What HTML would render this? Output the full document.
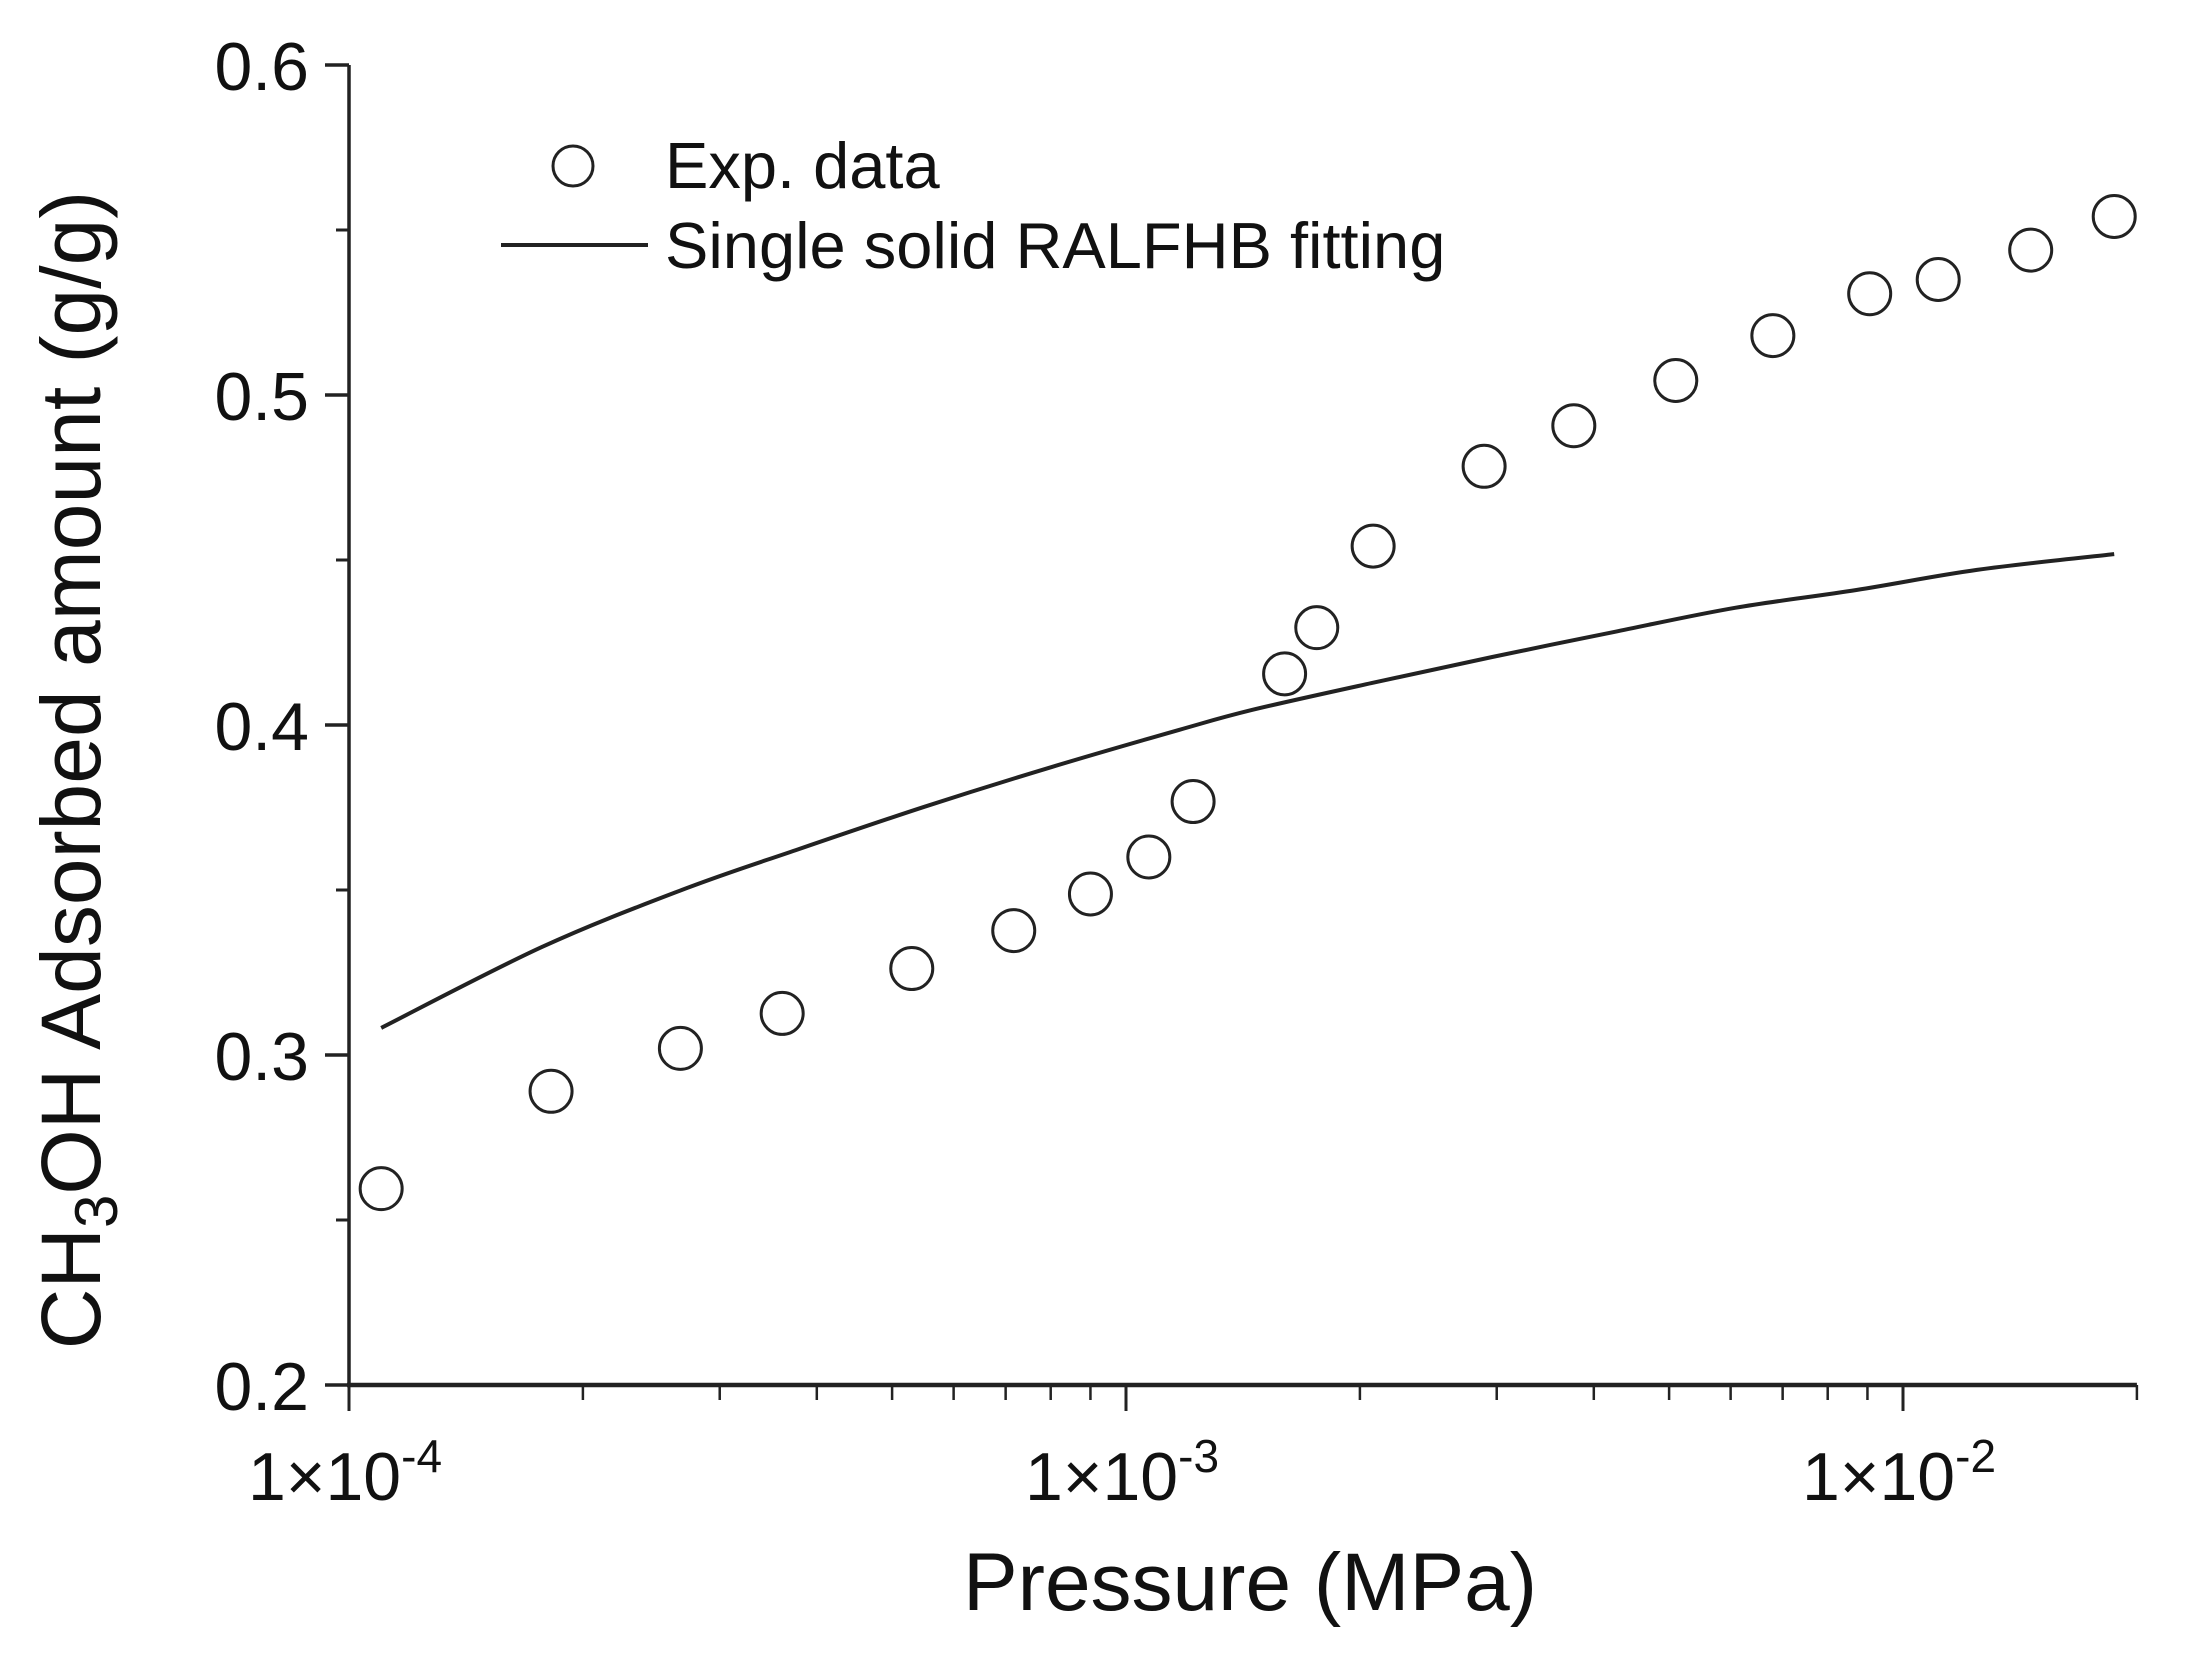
<!DOCTYPE html>
<html><head><meta charset="utf-8"><style>
html,body{margin:0;padding:0;background:#fff}
svg{display:block;font-family:"Liberation Sans",Arial,sans-serif}
</style></head><body>
<svg id="chart" width="2200" height="1656" viewBox="0 0 2200 1656" xmlns="http://www.w3.org/2000/svg">
<g id="axes"></g>
<g id="series"></g>
<text transform="translate(100,770) rotate(-90)" text-anchor="middle" font-size="84" fill="#111">CH<tspan font-size="60" dy="17">3</tspan><tspan dy="-17">OH Adsorbed amount (g/g)</tspan></text>
<text x="1250" y="1610" text-anchor="middle" font-size="82" fill="#111">Pressure (MPa)</text>
<g>
<circle cx="573" cy="166" r="20" fill="none" stroke="#222" stroke-width="3"/>
<text x="665" y="188" font-size="65" fill="#111">Exp. data</text>
<line x1="501" y1="245" x2="648" y2="245" stroke="#222" stroke-width="4"/>
<text x="665" y="268" font-size="65" fill="#111">Single solid RALFHB fitting</text>
</g>
</svg>
<script>
const expX=[1.10e-4,1.82e-4,2.67e-4,3.61e-4,5.3e-4,7.17e-4,9.0e-4,1.07e-3,1.22e-3,1.60e-3,1.76e-3,2.08e-3,2.89e-3,3.77e-3,5.10e-3,6.80e-3,9.06e-3,1.11e-2,1.46e-2,1.87e-2];
const expY=[0.2595,0.289,0.302,0.3126,0.3262,0.3377,0.3488,0.360,0.3768,0.4155,0.4295,0.4542,0.4784,0.4907,0.5044,0.518,0.5307,0.535,0.5439,0.5541];
const fitX=[1.10e-4,1.77e-4,2.68e-4,3.76e-4,5.50e-4,8.03e-4,1.17e-3,1.45e-3,2.07e-3,2.96e-3,4.25e-3,6.08e-3,8.71e-3,1.245e-2,1.87e-2];
const fitY=[0.3082,0.3327,0.3500,0.3621,0.3752,0.3873,0.3985,0.4045,0.4127,0.4206,0.4282,0.4355,0.4409,0.4470,0.4518];
const yTicks=[0.2,0.3,0.4,0.5,0.6];
const xDecades=[-4,-3,-2];
const NS="http://www.w3.org/2000/svg";
const X0=349,DEC=777,Y06=65,PER=330;
function sx(v){return X0+(Math.log10(v)+4)*DEC;}
function sy(v){return Y06+(0.6-v)*10*PER;}
function mk(t,a,p){const e=document.createElementNS(NS,t);for(const k in a)e.setAttribute(k,a[k]);(p||document.getElementById('axes')).appendChild(e);return e;}
const xEnd=sx(2e-2),yBot=sy(0.2);
let l=mk('line',{x1:X0,y1:sy(0.6),x2:X0,y2:yBot+2,stroke:'#222','stroke-width':3.5});


l=mk('line',{x1:X0-2,y1:yBot,x2:xEnd,y2:yBot,stroke:'#222','stroke-width':4.5});


yTicks.forEach(v=>{
  const y=sy(v);
  let t=mk('line',{x1:X0-24,y1:y,x2:X0,y2:y,stroke:'#222','stroke-width':3.5});
  
  
  let tx=mk('text',{x:X0-40,y:y+25,'text-anchor':'end','font-size':68,fill:'#111'});
  tx.textContent=v.toFixed(1);
  
  
});
for(let i=0;i<4;i++){
  const y=sy(0.25+i*0.1);
  let t=mk('line',{x1:X0-13,y1:y,x2:X0,y2:y,stroke:'#222','stroke-width':3});
  
  
}
xDecades.forEach(d=>{
  const x=sx(Math.pow(10,d));
  let t=mk('line',{x1:x,y1:yBot,x2:x,y2:yBot+26,stroke:'#222','stroke-width':3});
  
  
  let tx=mk('text',{x:x-4,y:1500,'text-anchor':'middle','font-size':68,fill:'#111'});
  
  
  tx.innerHTML='1×10<tspan font-size="46" dy="-28">'+d+'</tspan>';
  for(let m=2;m<=9;m++){
    const v=m*Math.pow(10,d);
    if(v>2.001e-2)break;
    const xm=sx(v);
    let mt=mk('line',{x1:xm,y1:yBot,x2:xm,y2:yBot+15,stroke:'#222','stroke-width':2.5});
    
    
  }
});
const ser=document.getElementById('series');
const P=fitX.map((v,i)=>[sx(v),sy(fitY[i])]);
let d='M'+P[0][0].toFixed(1)+' '+P[0][1].toFixed(1);
for(let i=0;i<P.length-1;i++){
  const p0=P[Math.max(0,i-1)],p1=P[i],p2=P[i+1],p3=P[Math.min(P.length-1,i+2)];
  const c1=[p1[0]+(p2[0]-p0[0])/6,p1[1]+(p2[1]-p0[1])/6];
  const c2=[p2[0]-(p3[0]-p1[0])/6,p2[1]-(p3[1]-p1[1])/6];
  d+='C'+c1[0].toFixed(1)+' '+c1[1].toFixed(1)+' '+c2[0].toFixed(1)+' '+c2[1].toFixed(1)+' '+p2[0].toFixed(1)+' '+p2[1].toFixed(1);
}
let p=mk('path',{d:d,fill:'none',stroke:'#222','stroke-width':4,'stroke-linejoin':'round'},ser);


expX.forEach((v,i)=>{
  let c=mk('circle',{cx:sx(v),cy:sy(expY[i]),r:21,fill:'none',stroke:'#222','stroke-width':3},ser);
  
  
});
</script>
</body></html>
